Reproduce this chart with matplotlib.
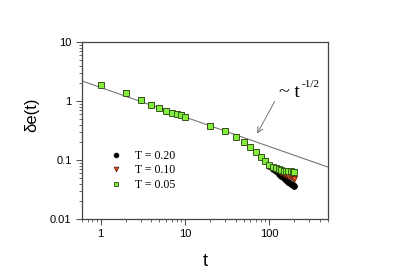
import numpy as np
import matplotlib
matplotlib.use("Agg")
import matplotlib.pyplot as plt

plt.rcParams['font.family'] = ['Liberation Sans', 'DejaVu Sans']

# 数据 (从图上读的)
t_common = [1, 2, 3, 4, 5, 6, 7, 8, 9, 10, 20, 30, 40, 50, 60, 70, 80, 90]
de_common = [1.87, 1.37, 1.04, 0.855, 0.75, 0.685, 0.634, 0.595, 0.57, 0.54,
             0.38, 0.306, 0.248, 0.20, 0.168, 0.137, 0.114, 0.095]
t_late = [100, 110, 120, 130, 140, 150, 160, 170, 180, 190, 200]
de_T020 = [0.079, 0.071, 0.064, 0.058, 0.053, 0.049, 0.046, 0.043, 0.040, 0.038, 0.036]
de_T010 = [0.080, 0.074, 0.069, 0.065, 0.061, 0.058, 0.055, 0.053, 0.051, 0.049, 0.047]
de_T005 = [0.082, 0.077, 0.073, 0.070, 0.068, 0.066, 0.065, 0.064, 0.064, 0.063, 0.063]
labels = ['T = 0.20', 'T = 0.10', 'T = 0.05']

# 参考线 ~ t^-1/2
line_amp = 1.7
line_t = [0.6, 500]

fig = plt.figure(figsize=(3.96, 2.76), dpi=100)
ax = fig.add_axes([0.207, 0.2065, 0.621, 0.641])

ax.plot(line_t, [line_amp * x ** -0.5 for x in line_t], color='#777777', lw=0.8, zorder=1)

t_all = t_common + t_late
ax.plot(t_all, de_common + de_T020, 'o', ms=4.2, mfc='black', mec='black', mew=0.6,
        label=labels[0], zorder=2)
ax.plot(t_all, de_common + de_T010, 'v', ms=4.2, mfc='#e0501c', mec='#5a2010', mew=0.6,
        label=labels[1], zorder=3)
ax.plot(t_all, de_common + de_T005, 's', ms=4.2, mfc='#84ec3c', mec='#2c4a14', mew=0.6,
        label=labels[2], zorder=4)

ax.set_xscale('log')
ax.set_yscale('log')
ax.set_xlim(0.6, 500)
ax.set_ylim(0.01, 10)
ax.set_xticks([1, 10, 100])
ax.set_xticklabels(['1', '10', '100'])
ax.set_yticks([0.01, 0.1, 1, 10])
ax.set_yticklabels(['0.01', '0.1', '1', '10'])

ax.tick_params(which='both', direction='out', top=False, right=False, color='#555555',
               labelsize=8)
ax.tick_params(which='major', length=4, width=0.8)
ax.tick_params(which='minor', length=2, width=0.6)
for s in ax.spines.values():
    s.set_color('#444444')
    s.set_linewidth(0.9)

ax.set_xlabel('t', fontsize=13)
ax.set_ylabel('δe(t)', fontsize=12)
ax.xaxis.set_label_coords(0.5, -0.19)
ax.yaxis.set_label_coords(-0.175, 0.59)

leg = ax.legend(loc='upper left', bbox_to_anchor=(0.07, 0.45), frameon=False,
                markerscale=0.8, handlelength=1.0, handletextpad=1.1, labelspacing=0.2,
                prop={'family': 'Liberation Serif', 'size': 8.5})

# ~ t^-1/2 标注
ax.text(0.8, 0.69, '~ t', transform=ax.transAxes, fontsize=14, family='Liberation Serif')
ax.text(0.894, 0.745, '-1/2', transform=ax.transAxes, fontsize=8, family='Liberation Serif')
ax.annotate('', xy=(0.707, 0.469), xytext=(0.789, 0.678),
            xycoords='axes fraction', textcoords='axes fraction',
            arrowprops=dict(arrowstyle='->', color='#777777', lw=0.7))

plt.savefig('out.png', dpi=100)
